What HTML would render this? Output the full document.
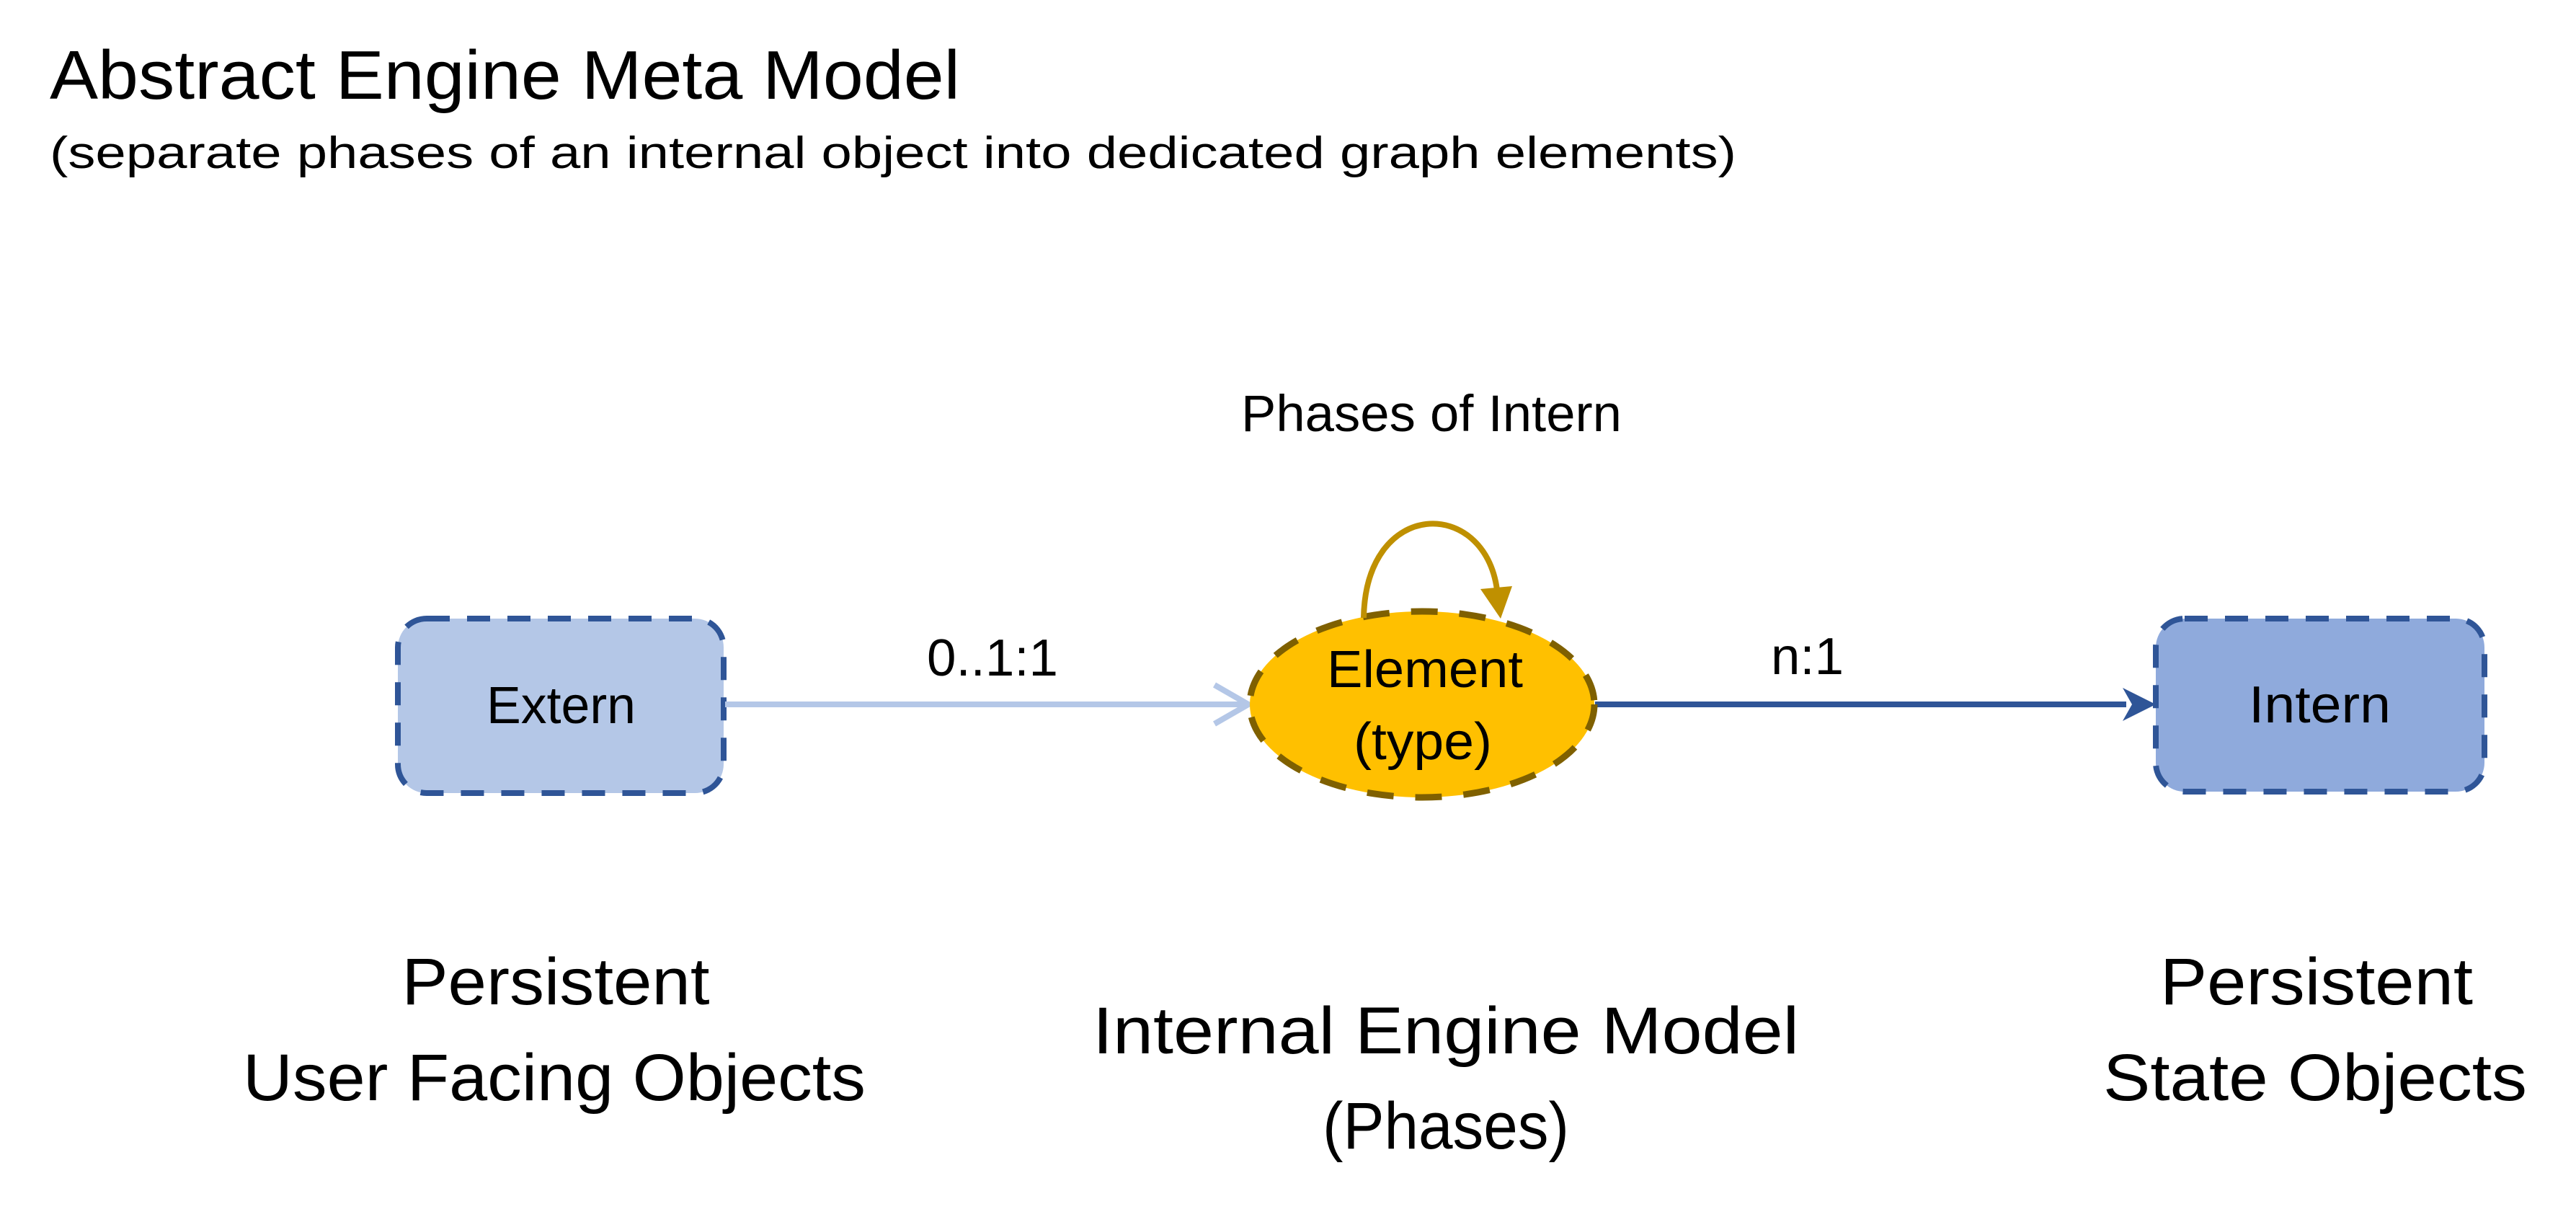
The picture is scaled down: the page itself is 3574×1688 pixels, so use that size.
<!DOCTYPE html>
<html><head><meta charset="utf-8"><style>
html,body{margin:0;padding:0;background:#fff;}
svg{display:block;}
text{font-family:"Liberation Sans",sans-serif;fill:#000;}
</style></head><body>
<svg width="3574" height="1688" viewBox="0 0 3574 1688" xmlns="http://www.w3.org/2000/svg">
<rect width="3574" height="1688" fill="#fff"/>
<text x="69" y="137" font-size="96" textLength="1263" lengthAdjust="spacingAndGlyphs">Abstract Engine Meta Model</text>
<text x="69" y="233" font-size="62" textLength="2340" lengthAdjust="spacingAndGlyphs">(separate phases of an internal object  into dedicated graph elements)</text>
<text x="1722" y="598" font-size="71" textLength="528" lengthAdjust="spacingAndGlyphs">Phases of Intern</text>

<rect x="552" y="858" width="452" height="242" rx="40" fill="#B4C7E7" stroke="#2F5597" stroke-width="8" stroke-dasharray="32 24"/>
<text x="675" y="1003" font-size="72" textLength="207" lengthAdjust="spacingAndGlyphs">Extern</text>

<rect x="2991" y="858" width="456" height="240" rx="40" fill="#8FAADC" stroke="#2F5597" stroke-width="8" stroke-dasharray="32 24"/>
<text x="3120" y="1002" font-size="72" textLength="197" lengthAdjust="spacingAndGlyphs">Intern</text>

<line x1="1006" y1="977" x2="1730" y2="977" stroke="#B4C7E7" stroke-width="8"/>
<polyline points="1685,950 1732,977 1685,1004" fill="none" stroke="#B4C7E7" stroke-width="8"/>
<text x="1286" y="937" font-size="72" textLength="182" lengthAdjust="spacingAndGlyphs">0..1:1</text>

<line x1="2213" y1="977" x2="2950" y2="977" stroke="#2F5597" stroke-width="8"/>
<polygon points="2945,954 2991,977 2945,1000 2958,977" fill="#2F5597"/>
<text x="2457" y="935" font-size="72" textLength="101" lengthAdjust="spacingAndGlyphs">n:1</text>

<ellipse cx="1973" cy="977" rx="239" ry="129" fill="#FFC000" stroke="#7F6000" stroke-width="9" stroke-dasharray="37 30"/>
<text x="1841" y="953" font-size="72" textLength="272" lengthAdjust="spacingAndGlyphs">Element</text>
<text x="1878" y="1053" font-size="72" textLength="192" lengthAdjust="spacingAndGlyphs">(type)</text>

<path d="M1892 857 C1895 690 2060 690 2077 818" fill="none" stroke="#BF9000" stroke-width="8"/>
<polygon points="2054,817 2098,813 2082,858" fill="#BF9000"/>

<text x="771" y="1393" font-size="92" text-anchor="middle" textLength="427" lengthAdjust="spacingAndGlyphs">Persistent</text>
<text x="769" y="1526" font-size="92" text-anchor="middle" textLength="864" lengthAdjust="spacingAndGlyphs">User Facing Objects</text>
<text x="2006" y="1461" font-size="92" text-anchor="middle" textLength="980" lengthAdjust="spacingAndGlyphs">Internal Engine Model</text>
<text x="2006" y="1593" font-size="92" text-anchor="middle" textLength="342" lengthAdjust="spacingAndGlyphs">(Phases)</text>
<text x="3214" y="1393" font-size="92" text-anchor="middle" textLength="434" lengthAdjust="spacingAndGlyphs">Persistent</text>
<text x="3212" y="1526" font-size="92" text-anchor="middle" textLength="588" lengthAdjust="spacingAndGlyphs">State Objects</text>
</svg>
</body></html>
